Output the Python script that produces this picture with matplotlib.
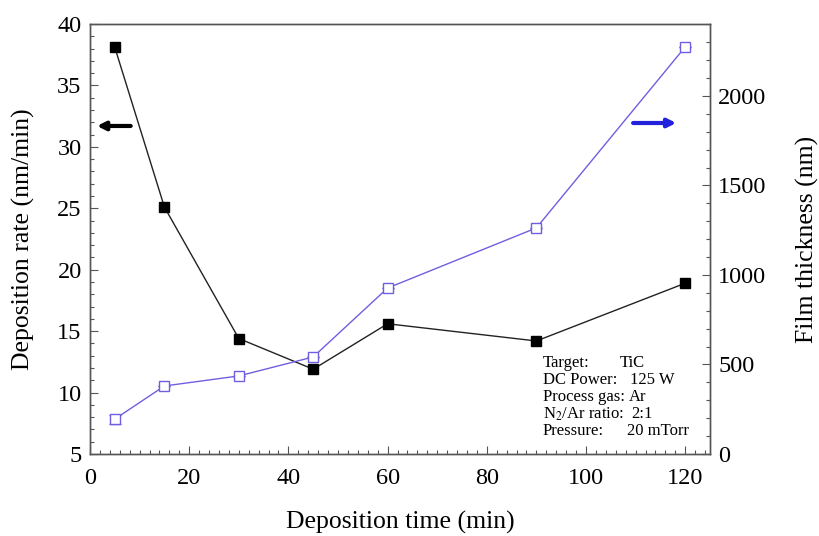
import matplotlib.pyplot as plt
from matplotlib.ticker import MultipleLocator

plt.rcParams['font.family'] = ['Liberation Serif', 'DejaVu Serif']
plt.rcParams['mathtext.fontset'] = 'stix'

time_min = [5, 15, 30, 45, 60, 90, 120]
dep_rate = [38.1, 25.1, 14.4, 11.9, 15.6, 14.2, 18.9]
thickness = [195, 380, 436, 542, 927, 1263, 2274]
thick_err = [25, 0, 0, 0, 0, 0, 0]

info_labels = ['Target:', 'DC Power:', 'Process gas:', r'N$_2$/Ar ratio:', 'Pressure:']
info_values = ['TiC', '125 W', 'Ar', '2:1', '20 mTorr']

blue = '#6f5fe0'
spine_col = '#555555'

fig = plt.figure(figsize=(8.2, 5.36), dpi=100)
ax = fig.add_axes([90/820, 82/536, 620/820, 430/536])
ax2 = ax.twinx()

ax.plot(time_min, dep_rate, color='#222222', lw=1.0, marker='s', ms=7,
        mfc='black', mec='black', zorder=3)
ax2.errorbar(time_min, thickness, yerr=thick_err, color=blue, lw=1.0,
             marker='s', ms=7, mfc='white', mec=blue, mew=1.0,
             ecolor=blue, elinewidth=1.0, capsize=4)

ax.set_xlim(0, 125)
ax.set_ylim(5, 40)
ax2.set_ylim(0, 2402)

ax.xaxis.set_major_locator(MultipleLocator(20))
ax.xaxis.set_minor_locator(MultipleLocator(2))
ax.yaxis.set_major_locator(MultipleLocator(5))
ax.yaxis.set_minor_locator(MultipleLocator(1))
ax2.yaxis.set_major_locator(MultipleLocator(500))
ax2.yaxis.set_minor_locator(MultipleLocator(100))

for a in (ax, ax2):
    a.tick_params(which='major', direction='in', length=6, width=0.8,
                  color=spine_col, labelsize=17.5)
    a.tick_params(which='minor', direction='in', length=3, width=0.8,
                  color=spine_col)
    for s in a.spines.values():
        s.set_color(spine_col)
        s.set_linewidth(1.0)
ax.tick_params(axis='x', which='both', top=False, pad=10)
ax.tick_params(axis='y', which='both', right=False, pad=6)
ax2.tick_params(axis='y', pad=6)

ax.set_xlabel('Deposition time (min)', fontsize=18.5)
ax.set_ylabel('Deposition rate (nm/min)', fontsize=18.5)
ax2.set_ylabel('Film thickness (nm)', fontsize=18.5)
ax.xaxis.set_label_coords(0.5, (454 - 522) / 430)
ax.xaxis.label.set_va('center')
ax.yaxis.set_label_coords((23 - 90) / 620, 0.5)
ax.yaxis.label.set_va('center')
ax2.yaxis.set_label_coords((807 - 90) / 620, 0.5)
ax2.yaxis.label.set_va('center')

# arrows pointing to the axes
ax.annotate('', xy=(1.4, 31.7), xytext=(8.2, 31.7),
            arrowprops=dict(arrowstyle='-|>', color='black', lw=3,
                            mutation_scale=12, shrinkA=0, shrinkB=0))
ax2.annotate('', xy=(118.2, 1849), xytext=(109.5, 1849),
             arrowprops=dict(arrowstyle='-|>', color='#2222dd', lw=3,
                             mutation_scale=12, shrinkA=0, shrinkB=0))

# process conditions
val_x = [620, 630, 629, 631, 627]
for i, (lab, val) in enumerate(zip(info_labels, info_values)):
    py = 363 + i * 17
    ax.text((543 - 90) / 620, (454 - py) / 430, lab, transform=ax.transAxes,
            fontsize=12, va='center', ha='left')
    ax.text((val_x[i] - 90) / 620, (454 - py) / 430, val, transform=ax.transAxes,
            fontsize=12, va='center', ha='left')

fig.savefig('out.png', dpi=100, facecolor='white')
